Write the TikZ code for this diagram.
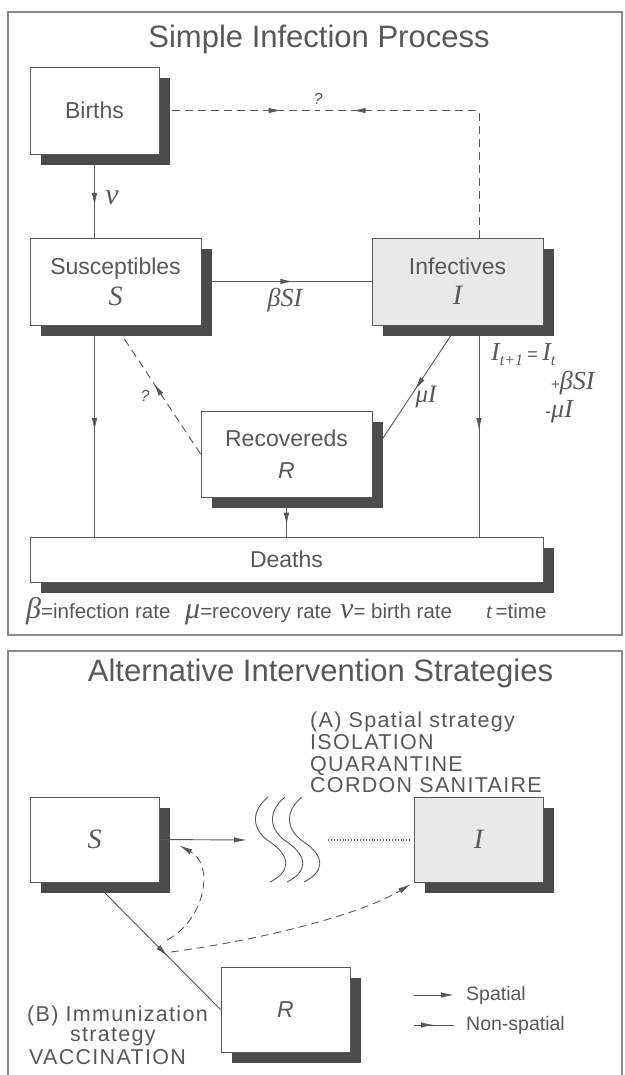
\documentclass[tikz,border=0pt]{standalone}
\usepackage{fontspec}
\setmainfont{Liberation Sans}
\newfontfamily\serifface{Liberation Serif}
\newfontfamily\widesans{Liberation Sans}[LetterSpace=6]
\usetikzlibrary{arrows.meta,positioning,calc,shadows,backgrounds,decorations.markings}
\definecolor{ink}{HTML}{585858}
\definecolor{shade}{HTML}{4B4B4B}
\definecolor{speck}{HTML}{E9E9E9}
\newcommand{\fsz}[1]{\fontsize{#1}{#1}\selectfont}
\newcommand{\vit}[1]{{\serifface\itshape #1}}
\newcommand{\bigv}[1]{{\fsz{28}\vit{#1}}}
\newcommand{\gk}[1]{{\fsz{30}\vit{#1}}}
\newcommand{\dn}[1]{\raisebox{-5pt}{\fsz{16}\vit{#1}}}

\begin{document}
\begin{tikzpicture}[x=1pt, y=-1pt,
  >={Latex[length=13pt,width=5.5pt]},
  box/.style={draw=ink, line width=0.9pt, fill=white, text=ink, align=center,
    font={\fsz{23}}, inner sep=0pt,
    drop shadow={shadow xshift=11pt, shadow yshift=-11pt, fill=shade, opacity=1}},
  hot/.style={box, fill=speck},
  flow/.style={draw=ink, line width=0.9pt},
  maybe/.style={flow, dash pattern=on 8pt off 5pt},
  midarr/.style={postaction={decorate},
    decoration={markings, mark=at position #1 with {\arrow{>}}}},
  midarr/.default=0.5,
  ttl/.style={text=ink, font={\fsz{31}}},
  lab/.style={text=ink, font={\fsz{20.5}}, inner sep=0pt},
  note/.style={lab, anchor=base west, font={\widesans\fsz{21.5}}},
  frame/.style={draw=ink!70, line width=1.2pt}
]
\useasboundingbox (0,0) rectangle (624,1075);
\draw[frame] (8,12) rectangle (622,635);
\draw[frame] (8,1075) -- (8,651) -- (622,651) -- (622,1075);

\node[ttl] (t1) at (319,39) {Simple Infection Process};
\node[box, minimum width=129pt, minimum height=87pt] (bir) at (94.5,110.5) {Births};
\node[box, minimum width=171pt, minimum height=87pt] (sus) at (115.5,281.5) {Susceptibles\\[7pt]\bigv{S}};
\node[hot, minimum width=171pt, minimum height=87pt] (inf) at (457.5,281.5) {Infectives\\[7pt]\bigv{I}};
\node[box, minimum width=171pt, minimum height=86pt] (rec) at (286.5,454) {Recovereds\\[9pt]\textit{R}};
\node[box, minimum width=513pt, minimum height=45pt] (dea) at (286.5,559.5) {Deaths};
\coordinate (qm) at (318,110.5);
\coordinate (qr) at (479,110.5);

\begin{scope}[on background layer]
\draw[flow, midarr=0.62] (bir.south) -- (bir.south |- sus.north);
\draw[flow, midarr=0.54] (sus.east) -- (inf.west);
\draw[maybe, midarr=0.77] (bir.east) -- (qm);
\draw[maybe, midarr=0.88] (inf.north -| qr) -- (qr) -- (qm);
\draw[flow, midarr=0.5] (sus.south -| bir.south) -- (dea.north -| bir.south);
\draw[flow, midarr=0.5] (inf.south -| qr) -- (dea.north -| qr);
\draw[flow, midarr=0.5] (inf.south) -- (rec.east);
\draw[maybe, midarr=0.55] (rec.west) -- (sus.south);
\draw[flow, midarr=0.72] (rec.south) -- (dea.north -| rec.south);
\end{scope}

\node[lab, font={\fsz{30}}] (nu) at (112,198) {\vit{ν}};
\node[lab, font={\fsz{16}}] (q1) at (318,99) {\textit{?}};
\node[lab, font={\fsz{26}}] (bsi) at (285,300) {\vit{βSI}};
\node[lab, font={\fsz{16}}] (q2) at (145,396) {\textit{?}};
\node[lab, font={\fsz{25}}] (mui) at (426,397) {\vit{μI}};
\node[lab, font={\fsz{26}}, anchor=west] (eq1) at (491,355) {\vit{I}\dn{t+1}\,{\fsz{18}=}\,\vit{I}\dn{t}};
\node[lab, font={\fsz{26}}, anchor=west] (eq2) at (551,383) {{\fsz{15}+}\vit{βSI}};
\node[lab, font={\fsz{26}}, anchor=west] (eq3) at (545,412) {{\fsz{18}-}\vit{μI}};

\node[lab, anchor=base west] (lg1) at (26,618) {\gk{β}=infection rate};
\node[lab, anchor=base west] (lg2) at (185,618) {\gk{μ}=recovery rate};
\node[lab, anchor=base west] (lg3) at (340,618) {\gk{ν}= birth rate};
\node[lab, anchor=base west] (lg4) at (486,618) {{\fsz{22}\vit{t}}\,=time};

\node[ttl] (t2) at (320.5,673) {Alternative Intervention Strategies};
\node[note] (spa) at (310,727) {(A) Spatial strategy};
\node[note] (spb) at (310,749) {ISOLATION};
\node[note] (spc) at (310,771) {QUARANTINE};
\node[note] (spd) at (310,792) {CORDON SANITAIRE};
\node[box, minimum width=129pt, minimum height=85pt] (sb) at (94.5,839.5) {\bigv{S}};
\node[hot, minimum width=129pt, minimum height=85pt] (ib) at (478.5,839.5) {\bigv{I}};
\node[box, minimum width=129pt, minimum height=85pt] (rb) at (285.5,1009.5) {\textit{R}};
\node[note] (ima) at (27,1021) {(B) Immunization};
\node[note] (imb) at (70,1041) {strategy};
\node[note] (imc) at (29,1064) {VACCINATION};
\node[lab, font={\fsz{19.5}}, anchor=west] (lsp) at (466,995) {Spatial};
\node[lab, font={\fsz{19.5}}, anchor=west] (lns) at (466,1025) {Non-spatial};

\coordinate (gap) at (247,840);
\coordinate (dt) at (328,840);
\coordinate (vs) at (167,940);
\coordinate (vi) at (171,952);
\coordinate (sp0) at (414,995);
\coordinate (sp1) at (454,995);
\coordinate (ns0) at (414,1025);
\coordinate (ns1) at (454,1025);

\begin{scope}[on background layer]
\draw[flow, midarr=0.58] (sb.south) -- (rb.west);
\end{scope}
\draw[flow, ->] (sb.east) -- (gap);
\foreach \dx in {0,17,34}
  \draw[flow] (268+\dx,797) .. controls (250+\dx,812) and (252+\dx,830) .. (270+\dx,842)
    .. controls (292+\dx,857) and (290+\dx,872) .. (270+\dx,882);
\draw[flow, dotted, line width=1.2pt, shorten >=4pt] (dt) -- (ib.west |- dt);
\draw[maybe, ->] (vs) .. controls (205,920) and (215,865) .. ($(sb.east)+(20,6)$);
\draw[maybe, ->, shorten >=3pt] (vi) .. controls (260,940) and (360,915) .. (ib.south west);
\draw[flow, ->] (sp0) -- (sp1);
\draw[flow, midarr] (ns0) -- (ns1);
\end{tikzpicture}
\end{document}
